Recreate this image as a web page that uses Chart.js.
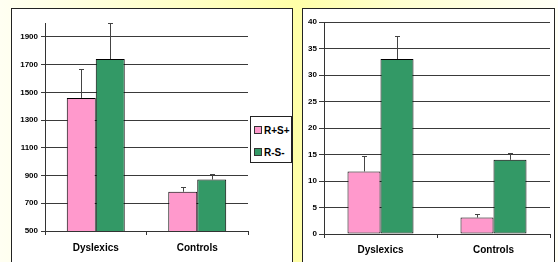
<!DOCTYPE html>
<html>
<head>
<meta charset="utf-8">
<script src="https://cdn.jsdelivr.net/npm/chart.js@4.4.1/dist/chart.umd.min.js"></script>
<style>
  html, body { margin: 0; padding: 0; }
  body {
    width: 558px; height: 262px; overflow: hidden; position: relative;
    background: linear-gradient(to right, #fffff2 0%, #ffffc4 35%, #ffffa8 53%, #ffffd0 72%, #fffff6 100%);
    font-family: "Liberation Sans", Arial, sans-serif;
  }
  .panel { position: absolute; background: #fff; border: 1px solid #222; box-sizing: border-box; }
  canvas { position: absolute; top: 0; }
  #legend {
    position: absolute; left: 250px; top: 116px; width: 42px; height: 47px;
    border: 1px solid #222; background: #fff; box-sizing: border-box;
    font: bold 10px "Liberation Sans", Arial, sans-serif; color: #000;
  }
  .item { position: absolute; left: 3px; height: 12px; line-height: 12px; white-space: nowrap; }
  .sw { display: inline-block; width: 6px; height: 6px; border: 1px solid #333; margin-right: 2px; vertical-align: 0px; }
</style>
</head>
<body>
<div class="panel" style="left:11px; top:8px; width:282px; height:270px;"></div>
<div class="panel" style="left:302px; top:8px; width:253px; height:270px;"></div>
<canvas id="c1" width="300" height="262" style="left:0px"></canvas>
<canvas id="c2" width="258" height="262" style="left:300px"></canvas>
<div id="legend">
  <div class="item" style="top:8px"><span class="sw" style="background:#ff99cc"></span>R+S+</div>
  <div class="item" style="top:30px"><span class="sw" style="background:#339966"></span>R-S-</div>
</div>
<script>
// ---- data ----
const categories = ["Dyslexics", "Controls"];
const seriesNames = ["R+S+", "R-S-"];
// left chart (reaction time)
const rtPlus = [1460, 783];
const rtMinus = [1740, 871];
const rtPlusErr = [210, 34];
const rtMinusErr = [258, 43];
const rtTicks = [500, 700, 900, 1100, 1300, 1500, 1700, 1900];
// right chart (errors)
const errPlus = [11.8, 3.1];
const errMinus = [33.0, 14.0];
const errPlusErr = [2.9, 0.65];
const errMinusErr = [4.4, 1.3];
const errTicks = [0, 5, 10, 15, 20, 25, 30, 35, 40];

const pink = '#ff99cc', green = '#339966';
const FONT = "'Liberation Sans', Arial, sans-serif";

const errorBars = {
  id: 'errorBars',
  afterDatasetsDraw(chart) {
    const ctx = chart.ctx, y = chart.scales.y;
    ctx.save();
    ctx.strokeStyle = '#444';
    ctx.lineWidth = 1;
    chart.data.datasets.forEach((ds, i) => {
      const meta = chart.getDatasetMeta(i);
      meta.data.forEach((el, j) => {
        const top = y.getPixelForValue(ds.data[j] + ds.errors[j]);
        const x = Math.round(el.x) + 0.5;
        ctx.beginPath();
        ctx.moveTo(x, el.y);
        ctx.lineTo(x, Math.round(top) + 0.5);
        ctx.moveTo(x - 2.5, Math.round(top) + 0.5);
        ctx.lineTo(x + 2.5, Math.round(top) + 0.5);
        ctx.stroke();
      });
    });
    ctx.restore();
  }
};

function makeChart(id, plus, minus, plusErr, minusErr, tickVals, yMin, yMax, cfg) {
  return new Chart(document.getElementById(id), {
    type: 'bar',
    data: {
      labels: categories,
      datasets: [
        { label: seriesNames[0], data: plus, errors: plusErr, backgroundColor: pink, borderColor: '#000', borderWidth: 1, borderSkipped: false },
        { label: seriesNames[1], data: minus, errors: minusErr, backgroundColor: green, borderColor: '#000', borderWidth: 1, borderSkipped: false }
      ]
    },
    options: {
      responsive: false, animation: false, devicePixelRatio: 1,
      layout: { padding: cfg.padding },
      plugins: { legend: { display: false }, tooltip: { enabled: false } },
      datasets: { bar: { categoryPercentage: cfg.catPct, barPercentage: 1 } },
      scales: {
        x: {
          grid: { drawOnChartArea: false, drawTicks: true, tickLength: 4, color: '#333', offset: true },
          border: { display: true, color: '#333', width: 1 },
          ticks: { color: '#000', font: { family: FONT, size: 10, weight: 'bold' }, padding: cfg.xPad },
          afterFit(s) { s.height = cfg.xHeight; }
        },
        y: {
          min: yMin, max: yMax,
          afterBuildTicks(s) { s.ticks = tickVals.map(v => ({ value: v })); },
          grid: { color: '#3a3a3a', lineWidth: 1, tickLength: cfg.tickLen },
          border: { display: true, color: '#333', width: 1 },
          ticks: { color: '#000', font: { family: FONT, size: 8, weight: 'bold' }, padding: cfg.yPad,
                   callback: v => String(v) },
          afterFit(s) { s.width = cfg.yWidth; }
        }
      }
    },
    plugins: [errorBars]
  });
}

makeChart('c1', rtPlus, rtMinus, rtPlusErr, rtMinusErr, rtTicks, 500, 2000,
  { padding: { left: 0, right: 52, top: 23, bottom: 0 }, catPct: 0.571, xPad: 7, xHeight: 31, tickLen: 4, yPad: 3, yWidth: 45 });
makeChart('c2', errPlus, errMinus, errPlusErr, errMinusErr, errTicks, 0, 40,
  { padding: { left: 0, right: 8, top: 22, bottom: 0 }, catPct: 0.584, xPad: 6, xHeight: 28, tickLen: 5, yPad: 2, yWidth: 24 });
</script>
</body>
</html>
